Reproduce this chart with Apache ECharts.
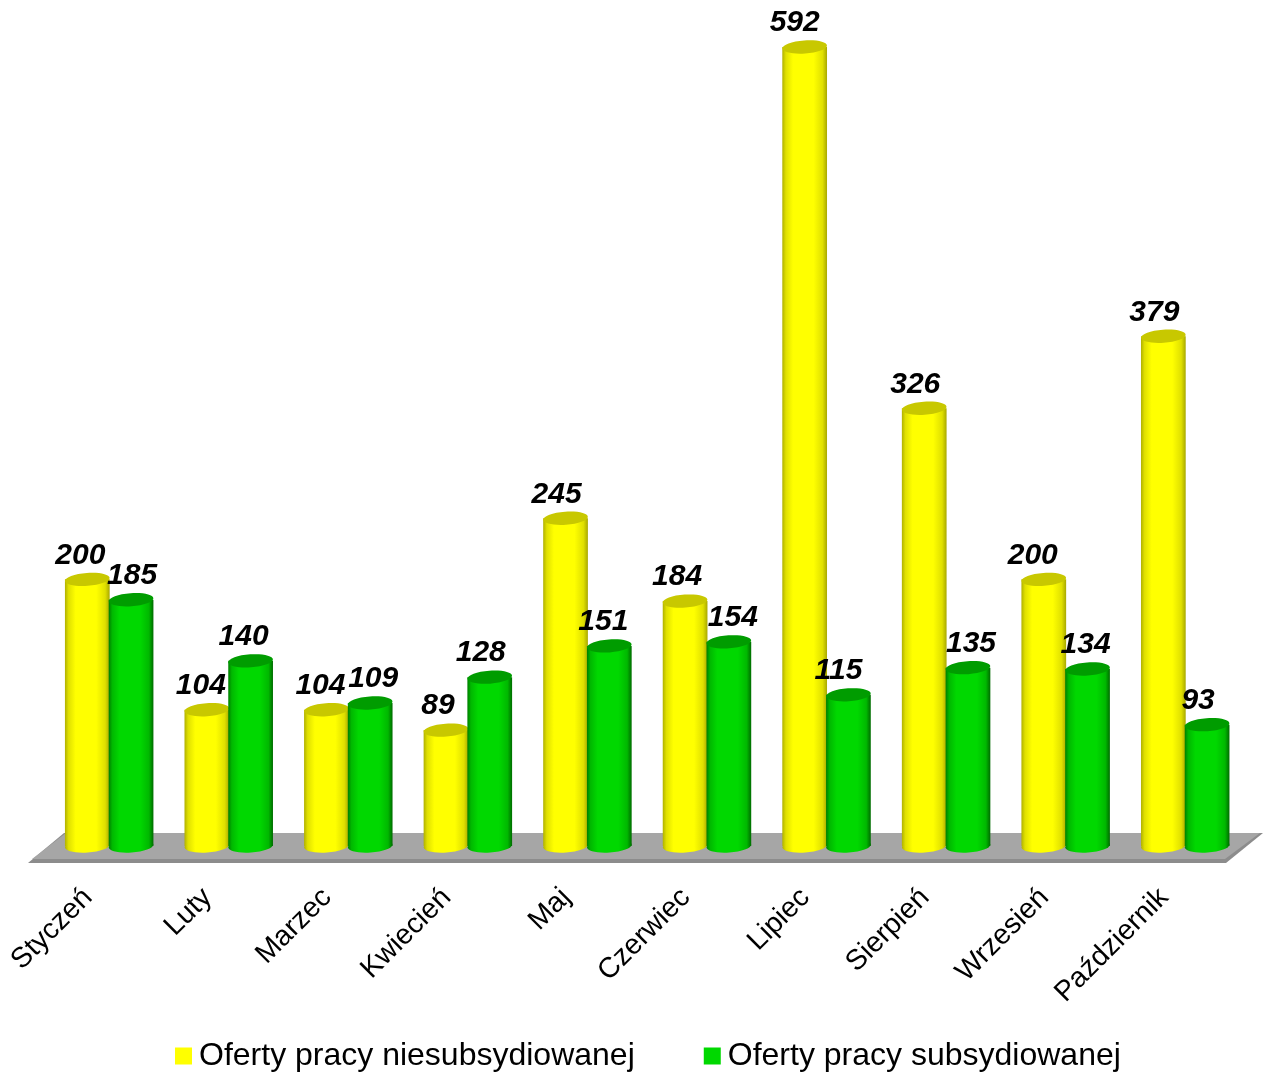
<!DOCTYPE html>
<html><head><meta charset="utf-8"><style>html,body{margin:0;padding:0;background:#fff}#c{width:1269px;height:1073px}</style>
<script src="https://cdn.jsdelivr.net/npm/echarts@6/dist/echarts.min.js"></script></head>
<body><div id="c"></div><script>
const months = ['Styczeń','Luty','Marzec','Kwiecień','Maj','Czerwiec','Lipiec','Sierpień','Wrzesień','Październik'];
const unsubsidised = [200,104,104,89,245,184,592,326,200,379];
const subsidised = [185,140,109,128,151,154,115,135,134,93];
const unsubsidisedLabelShift = [-7,-6,-6,-8,-9,-8,-10,-9,-11,-9];
const subsidisedLabelShift = [1,-7,3,-9,-6,4,-10,3,-2,-9];
const FONT = '"Liberation Sans", Arial, sans-serif';

function cylinder(side, values, shifts, edgeL, soft, mid, edgeR, topColor) {
  return function (params, api) {
    const i = api.value(0), v = api.value(1);
    const band = api.size([1, 0])[0];
    const base = api.coord([i, 0]);
    const top = api.coord([i, v]);
    const cx = base[0] + side * band * 0.183;
    const rx = band * 0.187, ry = 6.5;
    const bottomY = base[1] - 5;
    const fill = new echarts.graphic.LinearGradient(0, 0, 1, 0, [
      {offset: 0, color: edgeL}, {offset: 0.08, color: soft}, {offset: 0.24, color: mid},
      {offset: 0.7, color: mid}, {offset: 0.9, color: soft}, {offset: 1, color: edgeR}
    ]);
    const tilt = 0.07;
    return {type: 'group', children: [
      {type: 'ellipse', shape: {cx, cy: bottomY, rx, ry}, rotation: tilt, originX: cx, originY: bottomY, style: {fill}},
      {type: 'rect', shape: {x: cx - rx, y: top[1], width: rx * 2, height: bottomY - top[1]}, style: {fill}},
      {type: 'ellipse', shape: {cx, cy: top[1], rx, ry}, rotation: tilt, originX: cx, originY: top[1], style: {fill: topColor}},
      {type: 'text', x: cx + shifts[i], y: top[1] - 24, style: {
        text: String(v), font: 'italic bold 30px ' + FONT, fill: '#000', align: 'center', verticalAlign: 'middle'}}
    ]};
  };
}
const toData = a => a.map((v, i) => [i, v]);

const chart = echarts.init(document.getElementById('c'));
chart.setOption({
  animation: false,
  backgroundColor: '#fff',
  grid: {left: 49.4, width: 1195.6, top: 36.1, height: 814.9},
  xAxis: {type: 'category', data: months, boundaryGap: true,
    axisLine: {show: false}, axisTick: {show: false}, splitLine: {show: false},
    axisLabel: {interval: 0, rotate: 45, margin: 21, hideOverlap: false, color: '#000',
      fontFamily: FONT, fontSize: 28.5, padding: [0, 30, 0, 0]}},
  yAxis: {type: 'value', min: 0, max: 600, show: false},
  legend: {left: 170, top: 1035, icon: 'rect', itemWidth: 17, itemHeight: 17, itemGap: 69, itemStyle: {borderWidth: 0},
    textStyle: {fontFamily: FONT, fontSize: 32, color: '#000', padding: [0, 0, 0, 2]},
    data: ['Oferty pracy niesubsydiowanej', 'Oferty pracy subsydiowanej']},
  graphic: [
    {type: 'polygon', z: 0, shape: {points: [[28, 863], [1226, 863], [1263, 833], [64, 833]]}, style: {fill: '#8c8c8c'}},
    {type: 'polygon', z: 0, shape: {points: [[32, 859], [1225, 859], [1260, 833], [66, 833]]}, style: {fill: '#a6a6a6'}}
  ],
  series: [
    {name: 'Oferty pracy niesubsydiowanej', type: 'custom', data: toData(unsubsidised), encode: {x: 0, y: 1},
     clip: false, itemStyle: {color: '#ffff00'},
     renderItem: cylinder(-1, unsubsidised, unsubsidisedLabelShift, '#b0b000', '#e0e000', '#ffff00', '#a8a800', '#c8c800')},
    {name: 'Oferty pracy subsydiowanej', type: 'custom', data: toData(subsidised), encode: {x: 0, y: 1},
     clip: false, itemStyle: {color: '#00d800'},
     renderItem: cylinder(1, subsidised, subsidisedLabelShift, '#007f00', '#00b800', '#00d800', '#006b00', '#009c00')}
  ]
});
</script></body></html>
